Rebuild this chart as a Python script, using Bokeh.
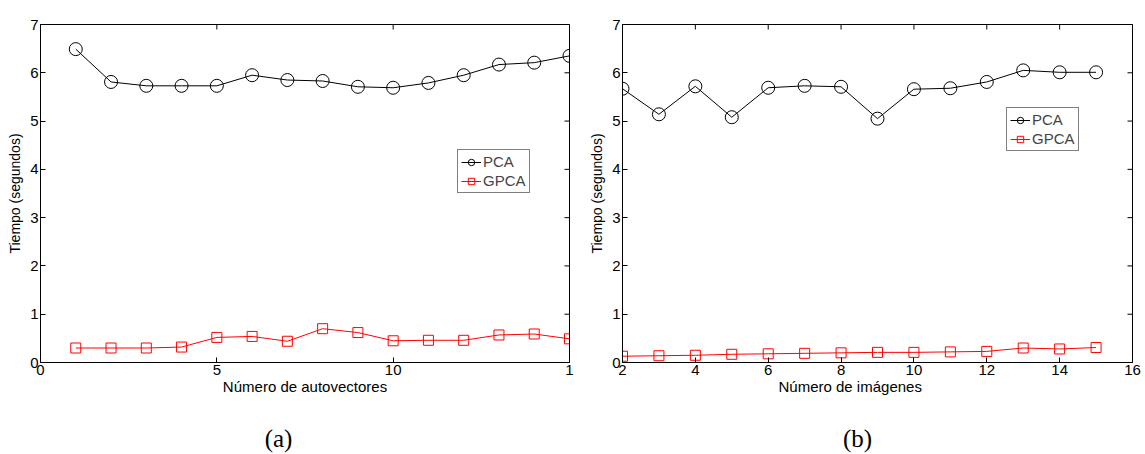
import math
from bokeh.plotting import figure
from bokeh.layouts import row, column
from bokeh.models import LinearAxis, FixedTicker, Legend, LegendItem, Range1d, Title
from bokeh.core.properties import value
from bokeh.embed import file_html
from bokeh.resources import INLINE

# ---- data (a) ----
a_x = [1, 2, 3, 4, 5, 6, 7, 8, 9, 10, 11, 12, 13, 14, 15]
a_pca = [6.49, 5.81, 5.73, 5.73, 5.73, 5.95, 5.85, 5.83, 5.71, 5.69, 5.79, 5.95, 6.17, 6.21, 6.35]
a_gpca = [0.30, 0.30, 0.30, 0.32, 0.52, 0.54, 0.44, 0.70, 0.62, 0.45, 0.46, 0.46, 0.57, 0.59, 0.49]
a_xticks = [0, 5, 10, 15]
a_xtick_labels = {15: "1"}

# ---- data (b) ----
b_x = [2, 3, 4, 5, 6, 7, 8, 9, 10, 11, 12, 13, 14, 15]
b_pca = [5.67, 5.14, 5.72, 5.08, 5.69, 5.73, 5.71, 5.05, 5.66, 5.68, 5.81, 6.05, 6.01, 6.01]
b_gpca = [0.13, 0.14, 0.15, 0.17, 0.18, 0.19, 0.20, 0.21, 0.21, 0.22, 0.23, 0.30, 0.28, 0.31]
b_xticks = [2, 4, 6, 8, 10, 12, 14, 16]

y_ticks = [0, 1, 2, 3, 4, 5, 6, 7]
series_names = ["PCA", "GPCA"]
y_label = "Tiempo (segundos)"
a_xlabel = "Número de autovectores"
b_xlabel = "Número de imágenes"
captions = ["(a)", "(b)"]

FONT = "Liberation Sans"
FS = "15px"
FS_Y = "14px"


def style_axis(ax):
    ax.axis_line_color = "black"
    ax.axis_line_width = 1
    ax.major_tick_in = 5
    ax.major_tick_out = 0
    ax.minor_tick_line_color = None
    ax.major_tick_line_color = "black"
    ax.major_label_text_font = FONT
    ax.major_label_text_font_size = FS
    ax.major_label_text_color = "black"
    ax.major_label_standoff = 2


def make_panel(xs, pca, gpca, xr, xticks, overrides, width, mb_left, mb_right, mb_top, mb_bottom,
               xlabel, xlabel_align, xlabel_offset, legend_loc):
    p = figure(width=width, height=404, output_backend="svg", toolbar_location=None,
               x_range=Range1d(*xr), y_range=Range1d(0, 7),
               min_border_left=mb_left, min_border_right=mb_right,
               min_border_top=mb_top, min_border_bottom=mb_bottom,
               x_axis_location=None, y_axis_location=None)
    p.xgrid.visible = False
    p.ygrid.visible = False
    p.outline_line_color = "black"
    p.outline_line_width = 1
    p.background_fill_color = "white"
    p.border_fill_color = "white"

    bx = LinearAxis(ticker=FixedTicker(ticks=xticks), major_label_overrides=overrides)
    style_axis(bx)
    p.add_layout(bx, "below")
    p.add_layout(Title(text=xlabel, align=xlabel_align, offset=xlabel_offset, vertical_align="top",
                       standoff=0, text_font=FONT, text_font_size=FS, text_font_style="normal",
                       text_color="black"), "below")
    ly = LinearAxis(ticker=FixedTicker(ticks=y_ticks), axis_label=y_label)
    style_axis(ly)
    ly.axis_label_text_font = FONT
    ly.axis_label_text_font_size = FS_Y
    ly.axis_label_text_font_style = "normal"
    ly.axis_label_text_color = "black"
    ly.axis_label_standoff = 4
    p.add_layout(ly, "left")

    # inward tick marks on the top and right edges of the box (outer half clipped by the frame)
    p.scatter([xr[1]] * len(y_ticks), y_ticks, marker="dash", size=10, line_color="black", line_width=1)
    p.scatter(xticks, [7] * len(xticks), marker="dash", size=10, angle=math.pi / 2,
              line_color="black", line_width=1)

    l1 = p.line(xs, pca, line_color="black", line_width=1)
    s1 = p.scatter(xs, pca, marker="circle", size=13, line_color="black", fill_color=None, line_width=1)
    l2 = p.line(xs, gpca, line_color="#ff0000", line_width=1)
    s2 = p.scatter(xs, gpca, marker="square", size=10, line_color="#ff0000", fill_color=None, line_width=1)

    leg = Legend(items=[LegendItem(label=series_names[0], renderers=[l1, s1]),
                        LegendItem(label=series_names[1], renderers=[l2, s2])],
                 location=legend_loc, border_line_color="black", border_line_width=1,
                 label_text_font=FONT, label_text_font_size=FS, glyph_width=20, glyph_height=16,
                 label_height=16, label_standoff=2, spacing=2, padding=3, margin=0,
                 background_fill_alpha=1.0)
    p.add_layout(leg, "center")
    return p


def make_caption(p, width, mb_left, mb_right, text, cx):
    c = figure(width=width, height=50, output_backend="svg", toolbar_location=None,
               x_range=p.x_range, y_range=Range1d(0, 50),
               min_border_left=mb_left, min_border_right=mb_right,
               min_border_top=0, min_border_bottom=0,
               x_axis_location=None, y_axis_location=None)
    c.xgrid.visible = False
    c.ygrid.visible = False
    c.outline_line_color = None
    c.background_fill_color = "white"
    c.border_fill_color = "white"
    c.text(x=[cx], y=[16], text=[text], text_font=value("Liberation Serif"),
           text_font_size=value("25px"), text_align="center", text_baseline="middle",
           text_color="black")
    return c


p1 = make_panel(a_x, a_pca, a_gpca, (0, 15), a_xticks, a_xtick_labels, 580, 40, 11, 18, 40,
                a_xlabel, "center", 0, (417, 169))
p2 = make_panel(b_x, b_pca, b_gpca, (2, 16), b_xticks, {}, 565, 42, 13, 24, 42,
                b_xlabel, "left", 156, (384, 211))
c1 = make_caption(p1, 580, 40, 11, captions[0], 6.75)
c2 = make_caption(p2, 565, 42, 13, captions[1], 8.45)

layout = column(row(p1, p2), row(c1, c2))
open("out.html", "w").write(file_html(layout, INLINE))
